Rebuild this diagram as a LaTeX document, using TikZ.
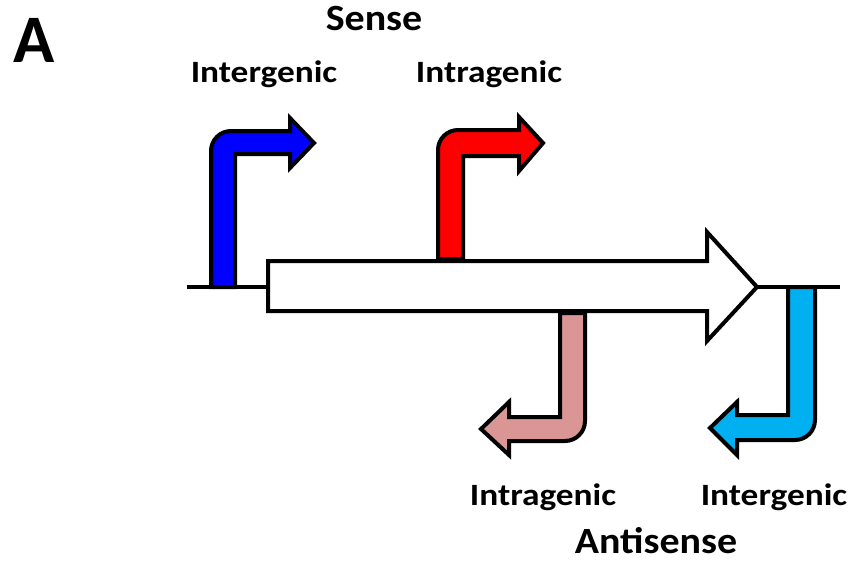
\documentclass[tikz,border=0pt]{standalone}
\usepackage{fontspec}
\setmainfont{Carlito}
\newfontfamily\lblfont{Carlito}[FakeStretch=1.14]
\newfontfamily\hdfont{Carlito}[FakeStretch=1.08]
\definecolor{sblue}{RGB}{0,0,255}
\definecolor{sred}{RGB}{255,0,0}
\definecolor{apink}{RGB}{217,150,148}
\definecolor{acyan}{RGB}{0,176,240}
\tikzset{
  outl/.style={draw=black, line width=4pt, line join=miter},
  lbl/.style={anchor=base, inner sep=0pt, font=\lblfont\bfseries\fontsize{31}{36}\selectfont},
  hd/.style={anchor=base, inner sep=0pt, font=\hdfont\bfseries\fontsize{37}{42}\selectfont},
}
\begin{document}
\begin{tikzpicture}[x=1pt,y=-1pt]
\useasboundingbox (0,0) rectangle (851,565);
% sense intergenic (blue)
\path[outl, fill=sblue] (211,287) [rounded corners=20pt] -- (211,131) -- (260,131) [sharp corners] -- (290,131) -- (290,118) -- (314,143) -- (290,168) -- (290,154) -- (235,154) -- (235,287) -- cycle;
% sense intragenic (red)
\path[outl, fill=sred] (438,259) [rounded corners=20pt] -- (438,130) -- (490,130) [sharp corners] -- (519,130) -- (519,117) -- (543,143) -- (519,171) -- (519,156) -- (463,156) -- (463,259) -- cycle;
% antisense intragenic (pink)
\path[outl, fill=apink] (560,313) -- (560,417) -- (509,417) -- (509,402) -- (481,429) -- (509,455) -- (509,441) [rounded corners=20pt] -- (540,441) -- (585,441) [sharp corners] -- (585,313) -- cycle;
% antisense intergenic (cyan)
\path[outl, fill=acyan] (788,287) -- (788,415) -- (737,415) -- (737,402) -- (710,428) -- (737,455) -- (737,440) [rounded corners=20pt] -- (770,440) -- (815,440) [sharp corners] -- (815,287) -- cycle;
% gene body
\node[coordinate] (gs) at (268,287) {};
\node[coordinate] (ge) at (757,287) {};
\path[outl, fill=white] (268,261) -- (707,261) -- (707,232) -- (ge) -- (707,341) -- (707,311) -- (268,311) -- cycle;
% baseline
\coordinate (l0) at (187,287);
\coordinate (r0) at (840,287);
\draw[line width=4pt] (l0) -- (gs);
\draw[line width=4pt] (ge) -- (r0);
% labels
\node[anchor=base, inner sep=0pt, font=\bfseries\fontsize{68}{72}\selectfont] (A) at (34,62) {A};
\node[hd] (sense) at (374,30) {Sense};
\node[lbl] (t1) at (264,82) {Intergenic};
\node[lbl] (t2) at (489,82) {Intragenic};
\node[lbl] (t3) at (543,505) {Intragenic};
\node[lbl] (t4) at (774,505) {Intergenic};
\node[hd] (anti) at (656,553) {Antisense};
\end{tikzpicture}
\end{document}
